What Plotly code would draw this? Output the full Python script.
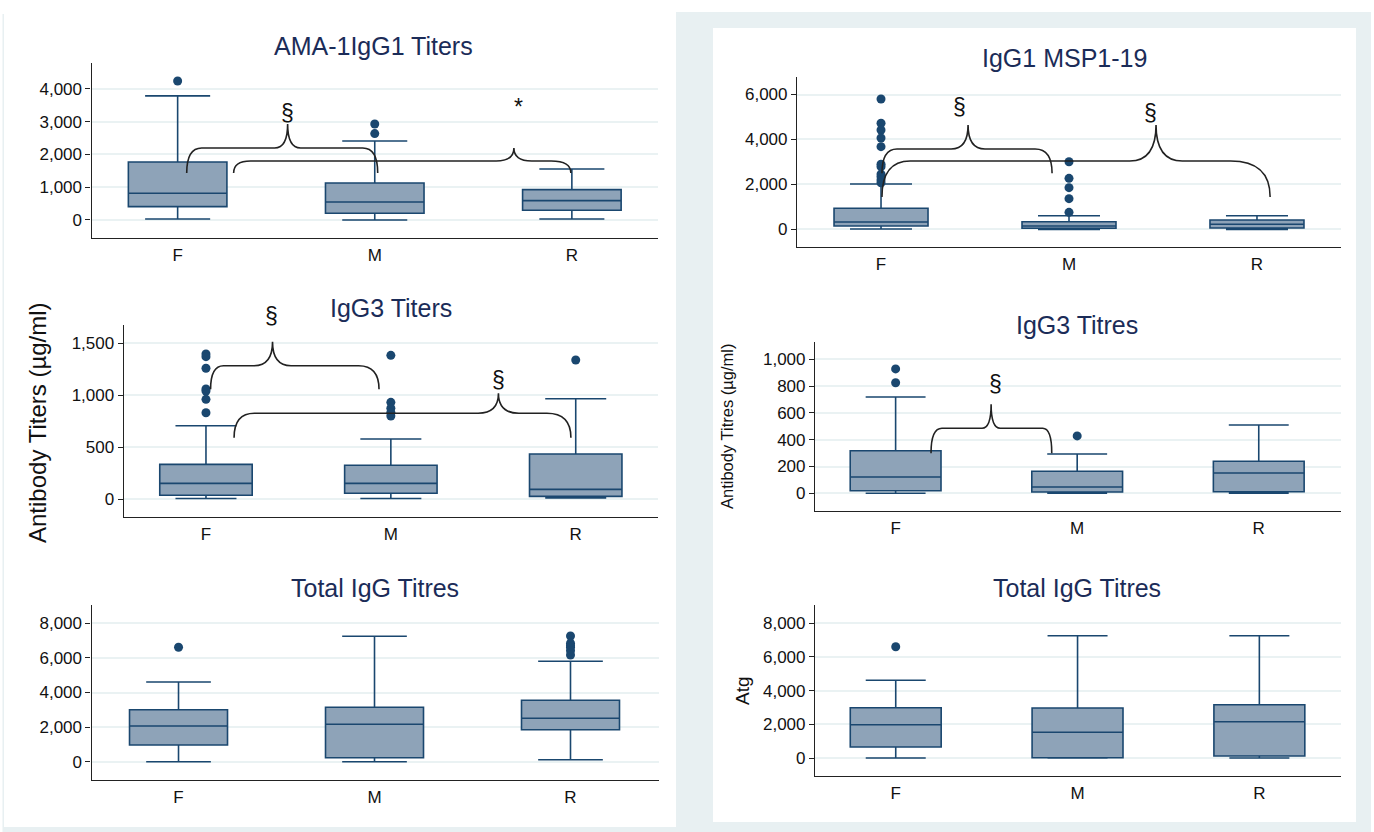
import plotly.graph_objects as go

W, H = 1374, 832

groups = ["F", "M", "R"]
gx = [0, 1, 2]

# ---------------- data ----------------
# Panel 1: AMA-1 IgG1 Titers
ama_q1 = [406, 204, 295]
ama_med = [815, 550, 590]
ama_q3 = [1770, 1130, 925]
ama_lo = [30, 0, 30]
ama_hi = [3786, 2410, 1557]
ama_out_f = [4240]
ama_out_m = [2930, 2635]
ama_out_r = []

# Panel 2: IgG1 MSP1-19
msp_q1 = [147, 45, 58]
msp_med = [325, 147, 223]
msp_q3 = [935, 340, 415]
msp_lo = [13, 0, 0]
msp_hi = [2018, 605, 605]
msp_out_f = [5800, 4720, 4420, 4065, 3680, 2895, 2790, 2460, 2345, 2195, 2075]
msp_out_m = [3010, 2270, 1855, 1365, 757]
msp_out_r = []

# Panel 3: IgG3 Titers
g3a_q1 = [36, 55, 26]
g3a_med = [151, 151, 93]
g3a_q3 = [334, 325, 433]
g3a_lo = [5, 5, 10]
g3a_hi = [706, 578, 966]
g3a_out_f = [1397, 1371, 1259, 1060, 1040, 960, 831]
g3a_out_m = [1384, 931, 874, 835, 800]
g3a_out_r = [1339]

# Panel 4: IgG3 Titres
g3b_q1 = [19, 10, 12]
g3b_med = [122, 47, 151]
g3b_q3 = [318, 164, 239]
g3b_lo = [0, 0, 0]
g3b_hi = [719, 293, 510]
g3b_out_f = [928, 825]
g3b_out_m = [428]
g3b_out_r = []

# Panel 5: Total IgG Titres (left)
tia_q1 = [965, 231, 1850]
tia_med = [2064, 2162, 2509]
tia_q3 = [3006, 3145, 3549]
tia_lo = [0, 0, 116]
tia_hi = [4607, 7249, 5803]
tia_out_f = [6613]
tia_out_m = []
tia_out_r = [7266, 6844, 6700, 6613, 6416, 6168]

# Panel 6: Total IgG Titres (right)
tib_q1 = [653, 18, 119]
tib_med = [1976, 1525, 2154]
tib_q3 = [2985, 2967, 3163]
tib_lo = [0, 0, 0]
tib_hi = [4611, 7258, 7258]
tib_out_f = [6605]
tib_out_m = []
tib_out_r = []

# ---------------- styling ----------------
NAVY = "#1a476f"
FILL = "#8ea3b8"
GRID = "#eaf2f3"
BG = "#e8f0f2"
TITLE_C = "#1b2c58"
FONT = "Liberation Sans, Arial, sans-serif"


def px_x(p):
    return p / W


def px_y(p):
    return 1 - p / H


panels = [
    dict(title="AMA-1IgG1 Titers", tpos=(373, 46),
         q1=ama_q1, med=ama_med, q3=ama_q3, lo=ama_lo, hi=ama_hi,
         outs=[ama_out_f, ama_out_m, ama_out_r],
         dom_x=(91.5, 658), dom_y=(63, 238), xr=[-0.437, 2.437], yr=[-550, 4790],
         tick=[0, 1000, 2000, 3000, 4000]),
    dict(title="IgG1 MSP1-19", tpos=(1064, 58),
         q1=msp_q1, med=msp_med, q3=msp_q3, lo=msp_lo, hi=msp_hi,
         outs=[msp_out_f, msp_out_m, msp_out_r],
         dom_x=(797, 1341), dom_y=(77, 247.3), xr=[-0.447, 2.447], yr=[-800, 6780],
         tick=[0, 2000, 4000, 6000]),
    dict(title="IgG3 Titers", tpos=(391, 308),
         q1=g3a_q1, med=g3a_med, q3=g3a_q3, lo=g3a_lo, hi=g3a_hi,
         outs=[g3a_out_f, g3a_out_m, g3a_out_r],
         dom_x=(123.7, 658), dom_y=(325, 517.3), xr=[-0.445, 2.445], yr=[-176, 1676],
         tick=[0, 500, 1000, 1500]),
    dict(title="IgG3 Titres", tpos=(1077, 325),
         q1=g3b_q1, med=g3b_med, q3=g3b_q3, lo=g3b_lo, hi=g3b_hi,
         outs=[g3b_out_f, g3b_out_m, g3b_out_r],
         dom_x=(815, 1341), dom_y=(341.7, 511), xr=[-0.444, 2.453], yr=[-132, 1131],
         tick=[0, 200, 400, 600, 800, 1000]),
    dict(title="Total IgG Titres", tpos=(375, 588),
         q1=tia_q1, med=tia_med, q3=tia_q3, lo=tia_lo, hi=tia_hi,
         outs=[tia_out_f, tia_out_m, tia_out_r],
         dom_x=(91.5, 658.5), dom_y=(605, 780), xr=[-0.444, 2.449], yr=[-1058, 9058],
         tick=[0, 2000, 4000, 6000, 8000]),
    dict(title="Total IgG Titres", tpos=(1077, 588),
         q1=tib_q1, med=tib_med, q3=tib_q3, lo=tib_lo, hi=tib_hi,
         outs=[tib_out_f, tib_out_m, tib_out_r],
         dom_x=(815, 1341), dom_y=(605, 776), xr=[-0.444, 2.449], yr=[-1068, 9080],
         tick=[0, 2000, 4000, 6000, 8000]),
]

# significance braces (panel index, x0, x1, xm, y_bottom, y_level, y_top, dx_left, dx_right, dx_peak)
braces = [
    (0, 0.046, 1.015, 0.558, 1435, 2198, 2931, 0.076, 0.076, 0.066),
    (0, 0.284, 1.995, 1.706, 1435, 1801, 2198, 0.086, 0.10, 0.09),
    (1, 0.005, 0.91, 0.463, 2494, 3577, 4646, 0.08, 0.09, 0.09),
    (1, 0.005, 2.07, 1.463, 1439, 3042, 4646, 0.15, 0.21, 0.14),
    (2, 0.025, 0.936, 0.36, 1057, 1284, 1515, 0.07, 0.11, 0.10),
    (2, 0.152, 1.974, 1.582, 591, 826, 1018, 0.11, 0.13, 0.11),
    (3, 0.195, 0.86, 0.526, 299, 485, 664, 0.06, 0.05, 0.05),
]
# significance marks (panel index, x, y, text)
marks = [
    (0, 0.558, 3267, "§"),
    (0, 1.731, 3450, "*"),
    (1, 0.42, 5448, "§"),
    (1, 1.431, 5180, "§"),
    (2, 0.355, 1763, "§"),
    (2, 1.582, 1146, "§"),
    (3, 0.55, 813, "§"),
]


def data_to_paper(pi, x, y):
    p = panels[pi]
    xl, xh = p["dom_x"]
    yt, yb = p["dom_y"]
    r0, r1 = p["xr"]
    s0, s1 = p["yr"]
    pxx = xl + (x - r0) / (r1 - r0) * (xh - xl)
    pxy = yb - (y - s0) / (s1 - s0) * (yb - yt)
    return px_x(pxx), px_y(pxy)


fig = go.Figure()
layout = dict(
    width=W, height=H,
    margin=dict(l=0, r=0, t=0, b=0),
    paper_bgcolor="white", plot_bgcolor="rgba(0,0,0,0)",
    showlegend=False,
    font=dict(family=FONT, color="#111"),
)
shapes = []
annotations = []

# background panels
shapes.append(dict(type="rect", xref="paper", yref="paper", layer="below",
                   x0=px_x(676), x1=px_x(1371), y0=px_y(832), y1=px_y(12),
                   fillcolor=BG, line=dict(width=0)))
shapes.append(dict(type="rect", xref="paper", yref="paper", layer="below",
                   x0=px_x(713), x1=px_x(1356), y0=px_y(822), y1=px_y(28),
                   fillcolor="white", line=dict(width=0)))
shapes.append(dict(type="rect", xref="paper", yref="paper", layer="below",
                   x0=px_x(3), x1=px_x(676), y0=px_y(832), y1=px_y(827),
                   fillcolor=BG, line=dict(width=0)))
shapes.append(dict(type="rect", xref="paper", yref="paper", layer="below",
                   x0=px_x(2.5), x1=px_x(4), y0=px_y(832), y1=px_y(14),
                   fillcolor=BG, line=dict(width=0)))

for i, p in enumerate(panels):
    n = i + 1
    xa = "x" if n == 1 else f"x{n}"
    ya = "y" if n == 1 else f"y{n}"
    fig.add_trace(go.Box(
        x=gx, q1=p["q1"], median=p["med"], q3=p["q3"],
        lowerfence=p["lo"], upperfence=p["hi"],
        width=0.5, whiskerwidth=0.66,
        fillcolor=FILL, line=dict(color=NAVY, width=1.6),
        boxpoints=False, xaxis=xa, yaxis=ya, hoverinfo="skip",
    ))
    ox, oy = [], []
    for g, vals in zip(gx, p["outs"]):
        for v in vals:
            ox.append(g)
            oy.append(v)
    fig.add_trace(go.Scatter(
        x=ox, y=oy, mode="markers",
        marker=dict(color=NAVY, size=9, line=dict(width=0)),
        xaxis=xa, yaxis=ya, hoverinfo="skip",
    ))
    kx = "xaxis" if n == 1 else f"xaxis{n}"
    ky = "yaxis" if n == 1 else f"yaxis{n}"
    layout[kx] = dict(
        domain=[px_x(p["dom_x"][0]), px_x(p["dom_x"][1])],
        anchor=ya, range=p["xr"],
        tickvals=gx, ticktext=groups,
        showgrid=False, zeroline=False,
        showline=True, linecolor="#222", linewidth=1.2,
        ticks="outside", ticklen=1, tickcolor="rgba(0,0,0,0)",
        tickfont=dict(family=FONT, size=17, color="#111"),
    )
    layout[ky] = dict(
        domain=[px_y(p["dom_y"][1]), px_y(p["dom_y"][0])],
        anchor=xa, range=p["yr"],
        tickvals=p["tick"], tickformat=",",
        showgrid=True, gridcolor=GRID, gridwidth=2,
        zeroline=False,
        showline=True, linecolor="#222", linewidth=1.2,
        ticks="outside", ticklen=5, tickcolor="#222", tickwidth=1,
        tickfont=dict(family=FONT, size=17, color="#111"),
    )
    annotations.append(dict(
        text=p["title"], xref="paper", yref="paper",
        x=px_x(p["tpos"][0]), y=px_y(p["tpos"][1]),
        xanchor="center", yanchor="middle", showarrow=False,
        font=dict(family=FONT, size=25, color=TITLE_C),
    ))

for (pi, x0, x1, xm, yb, yl, yt, dxl, dxr, dxp) in braces:
    n = pi + 1
    xa = "x" if n == 1 else f"x{n}"
    ya = "y" if n == 1 else f"y{n}"
    path = (f"M {x0},{yb} Q {x0},{yl} {x0 + dxl},{yl} "
            f"L {xm - dxp},{yl} Q {xm},{yl} {xm},{yt} "
            f"Q {xm},{yl} {xm + dxp},{yl} "
            f"L {x1 - dxr},{yl} Q {x1},{yl} {x1},{yb}")
    shapes.append(dict(type="path", xref=xa, yref=ya, path=path,
                       line=dict(color="#222", width=1.6), layer="above"))

for (pi, x, y, t) in marks:
    mx, my = data_to_paper(pi, x, y)
    annotations.append(dict(text=t, xref="paper", yref="paper", x=mx, y=my,
                            showarrow=False, xanchor="center", yanchor="middle",
                            font=dict(family=FONT, size=23, color="#111")))

# axis titles
annotations.append(dict(text="Antibody Titers (µg/ml)", xref="paper", yref="paper",
                        x=px_x(37), y=px_y(423), textangle=-90, showarrow=False,
                        xanchor="center", yanchor="middle",
                        font=dict(family=FONT, size=24, color="#111")))
annotations.append(dict(text="Antibody Titres (µg/ml)", xref="paper", yref="paper",
                        x=px_x(727), y=px_y(427), textangle=-90, showarrow=False,
                        xanchor="center", yanchor="middle",
                        font=dict(family=FONT, size=16.5, color="#111")))
annotations.append(dict(text="Atg", xref="paper", yref="paper",
                        x=px_x(742), y=px_y(691), textangle=-90, showarrow=False,
                        xanchor="center", yanchor="middle",
                        font=dict(family=FONT, size=19, color="#111")))

layout["shapes"] = shapes
layout["annotations"] = annotations
fig.update_layout(**layout)
fig.write_html("out.html")
